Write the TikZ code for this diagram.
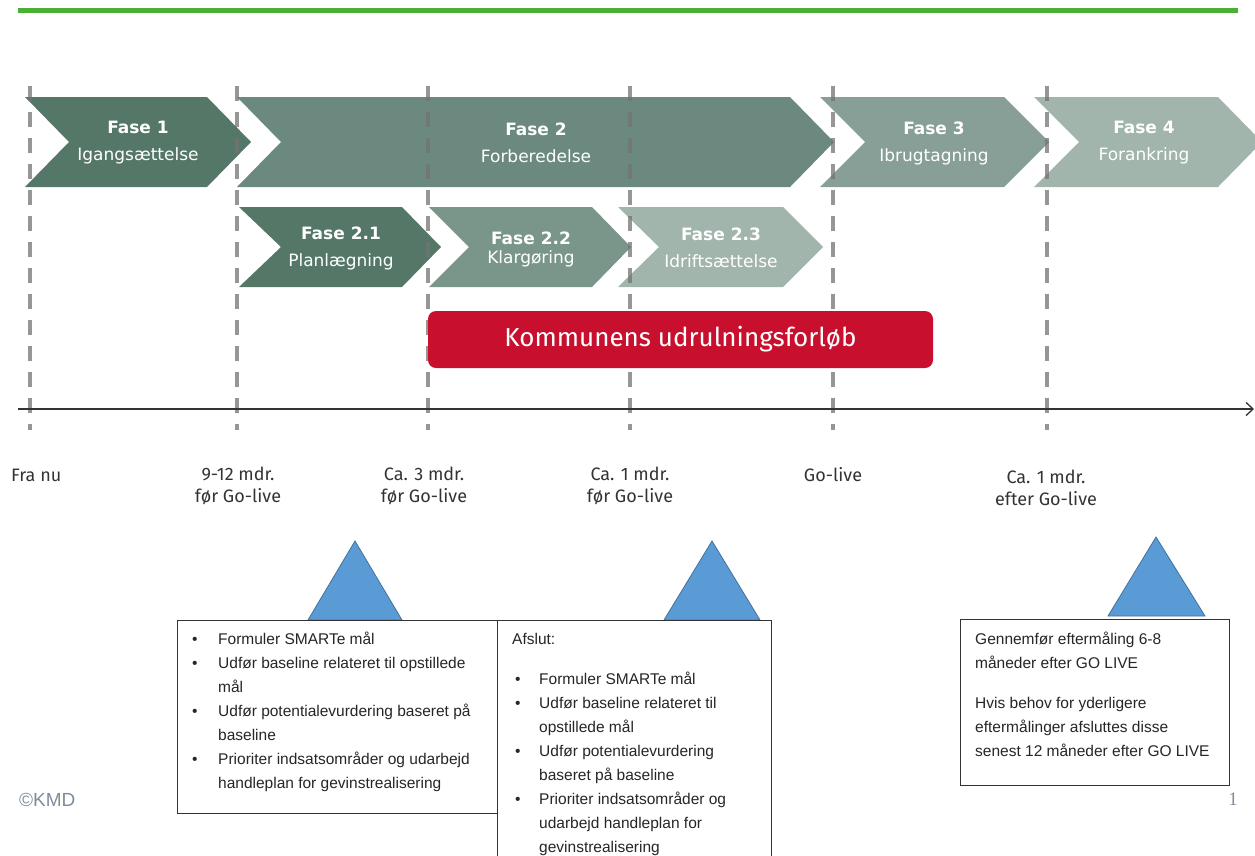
\documentclass[tikz,border=0pt]{standalone}
\usepackage{fontspec}
\setmainfont{Liberation Sans}
\newfontfamily\fasefont{DejaVu Sans}
\newfontfamily\tidfont{Fira Sans}
\newfontfamily\sidefont{Liberation Serif}
\usetikzlibrary{positioning}
\usetikzlibrary{arrows.meta}

\definecolor{fasemoerk}{RGB}{84,119,104}
\definecolor{fasemid}{RGB}{108,137,127}
\definecolor{faseklar}{RGB}{122,150,139}
\definecolor{faselys}{RGB}{135,159,150}
\definecolor{faseblek}{RGB}{162,181,173}
\definecolor{kmdroed}{RGB}{200,16,46}
\definecolor{kmdgroen}{RGB}{74,176,53}
\definecolor{trekant}{RGB}{91,155,213}
\definecolor{trekantkant}{RGB}{65,113,156}
\definecolor{fodgraa}{RGB}{128,140,155}

\tikzstyle{fase} = [text=white, align=center, inner sep=0pt, font=\fasefont\fontsize{17}{27}\selectfont]
\tikzstyle{tidslinje} = [draw=black!55, line width=3.5pt, dash pattern=on 15pt off 11pt, opacity=0.75]
\tikzstyle{tid} = [text=black!80, align=center, inner sep=0pt, font=\tidfont\fontsize{18}{22}\selectfont]
\tikzstyle{milepael} = [fill=trekant, draw=trekantkant, line width=0.8pt]
\tikzstyle{boks} = [draw=black!80, fill=white, line width=1pt, anchor=north west, inner sep=0pt]
\tikzstyle{bokstekst} = [anchor=north west, align=left, inner sep=0pt, text=black!85, font=\fontsize{15.5}{24}\selectfont]

\begin{document}
\begin{tikzpicture}[
		x=1pt, y=-1pt,
		>={Straight Barb[length=7pt,width=13pt]}
	]
	\useasboundingbox (0,0) rectangle (1255,855);

	% top line
	\draw[kmdgroen, line width=4.5pt] (18,10.5) -- (1238,10.5);

	% faser
	\fill[fasemoerk] (25,97) -- (207,97) -- (251,142) -- (207,187) -- (25,187) -- (69,142) -- cycle;
	\fill[fasemid] (237,97) -- (790,97) -- (834,142) -- (790,187) -- (237,187) -- (281,142) -- cycle;
	\fill[faselys] (820,97) -- (1004,97) -- (1049,142) -- (1004,187) -- (820,187) -- (865,142) -- cycle;
	\fill[faseblek] (1034,97) -- (1218,97) -- (1262,142) -- (1218,187) -- (1034,187) -- (1079,142) -- cycle;
	\fill[fasemoerk] (239,207) -- (402,207) -- (441,247) -- (402,287) -- (239,287) -- (281,247) -- cycle;
	\fill[faseklar] (429,207) -- (592,207) -- (631,247) -- (592,287) -- (429,287) -- (469,247) -- cycle;
	\fill[faseblek] (618,207) -- (783,207) -- (823,247) -- (783,287) -- (618,287) -- (659,247) -- cycle;

	\node[fase] (f1) at (138,143) {\textbf{Fase 1}\\Igangsættelse};
	\node[fase] (f2) at (536,143) {\textbf{Fase 2}\\Forberedelse};
	\node[fase] (f3) at (934,143) {\textbf{Fase 3}\\Ibrugtagning};
	\node[fase] (f4) at (1144,143) {\textbf{Fase 4}\\Forankring};
	\node[fase] (f21) at (341,248) {\textbf{Fase 2.1}\\Planlægning};
	\node[fase] (f22) at (531,249) {\textbf{Fase 2.2}\\[-8pt]Klargøring};
	\node[fase] (f23) at (721,248) {\textbf{Fase 2.3}\\Idriftsættelse};

	% tidslinjer
	\foreach \x in {30,237,428,630,833,1047}
		\draw[tidslinje] (\x,86) -- (\x,430);

	\node[fill=kmdroed, rounded corners=8pt, minimum width=505pt, minimum height=57pt, text=white,
		font=\tidfont\fontsize{26}{30}\selectfont] (forloeb) at (680.5,339.5) {Kommunens udrulningsforløb};

	% akse
	\coordinate (start) at (18,409);
	\coordinate (slut) at (1254,409);
	\draw[black!80, line width=1.3pt, ->] (start) -- (slut);

	\node[tid, anchor=west] (nu) at (11,475) {Fra nu};
	\node[tid] (t912) at (238,486) {9-12 mdr.\\før Go-live};
	\node[tid] (t3) at (424,486) {Ca. 3 mdr.\\før Go-live};
	\node[tid] (t1) at (630,486) {Ca. 1 mdr.\\før Go-live};
	\node[tid] (golive) at (833,475) {Go-live};
	\node[tid] (efter) at (1046,488) {Ca. 1 mdr.\\efter Go-live};

	% milepaele
	\draw[milepael] (355,541) -- (402,620) -- (308,620) -- cycle;
	\draw[milepael] (712,541) -- (760,620) -- (664,620) -- cycle;
	\draw[milepael] (1156,537) -- (1205,616) -- (1108,616) -- cycle;

	\node[boks, minimum width=320pt, minimum height=193pt] (maal) at (177,620) {};
	\node[boks, minimum width=274pt, minimum height=250pt] (afslut) at (497,620) {};
	\node[boks, minimum width=269pt, minimum height=166pt] (eftermaal) at (960,619) {};

	\node[bokstekst] (maaltekst) at ([shift={(15,7)}]maal.north west) {%
		\begin{tabular}{@{}p{26pt}@{}l@{}}
		• & Formuler SMARTe mål\\
		• & Udfør baseline relateret til opstillede\\
		  & mål\\
		• & Udfør potentialevurdering baseret på\\
		  & baseline\\
		• & Prioriter indsatsområder og udarbejd\\
		  & handleplan for gevinstrealisering
		\end{tabular}};
	\node[bokstekst] (afsluttekst) at ([shift={(15,7)}]afslut.north west) {%
		\begin{tabular}{@{}p{27pt}@{}l@{}}
		\multicolumn{2}{@{}l@{}}{Afslut:}\\[16pt]
		\hspace{3pt}• & Formuler SMARTe mål\\
		\hspace{3pt}• & Udfør baseline relateret til\\
		  & opstillede mål\\
		\hspace{3pt}• & Udfør potentialevurdering\\
		  & baseret på baseline\\
		\hspace{3pt}• & Prioriter indsatsområder og\\
		  & udarbejd handleplan for\\
		  & gevinstrealisering
		\end{tabular}};
	\node[bokstekst] (eftermaaltekst) at ([shift={(15,8)}]eftermaal.north west) {%
		\begin{tabular}{@{}l@{}}
		Gennemfør eftermåling 6-8\\
		måneder efter GO LIVE\\[16pt]
		Hvis behov for yderligere\\
		eftermålinger afsluttes disse\\
		senest 12 måneder efter GO LIVE
		\end{tabular}};

	% fod
	\node[anchor=west, inner sep=0pt, text=fodgraa, font=\fontsize{19}{20}\selectfont] (kmd) at (19,800) {©KMD};
	\node[inner sep=0pt, text=fodgraa, font=\sidefont\fontsize{19}{20}\selectfont] (side) at (1233,799) {1};
\end{tikzpicture}
\end{document}
